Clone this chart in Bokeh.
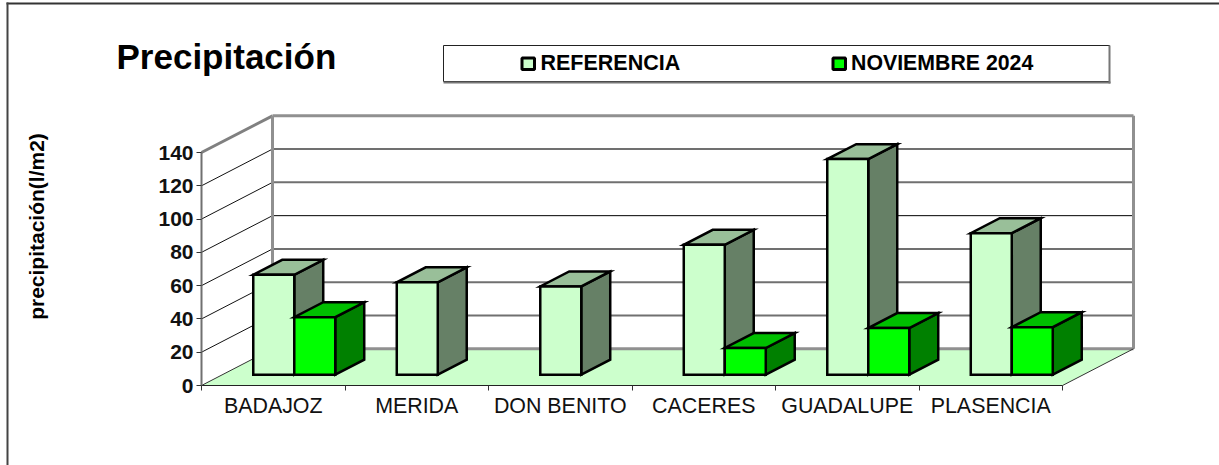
import math
from bokeh.plotting import figure
from bokeh.models import Range1d, FixedTicker, BoxAnnotation, Label
from bokeh.embed import file_html
from bokeh.resources import INLINE

categories = ["BADAJOZ", "MERIDA", "DON BENITO", "CACERES", "GUADALUPE", "PLASENCIA"]
referencia = [60, 55.5, 53, 78, 129.5, 85]
noviembre = [34.5, None, None, 16, 28, 28.5]
y_ticks = [0, 20, 40, 60, 80, 100, 120, 140]
title_text = "Precipitación"
y_title = "precipitación(l/m2)"
legend_names = ["REFERENCIA", "NOVIEMBRE 2024"]

FONT = "Liberation Sans"
W, H = 1219, 465
FRONT_L, FRONT_B, CAT_W, PX_PER_UNIT = 201, 385, 143.5, 233 / 140
DEPTH_X, DEPTH_Y = 71 / CAT_W, 36.7 / PX_PER_UNIT
N = len(categories)

p = figure(width=W, height=H, output_backend="svg", toolbar_location=None,
           x_range=Range1d(-FRONT_L / CAT_W, (W - FRONT_L) / CAT_W),
           y_range=Range1d(-(H - FRONT_B) / PX_PER_UNIT, FRONT_B / PX_PER_UNIT),
           min_border=0, background_fill_color="white")
p.outline_line_color = None
p.grid.visible = False

# axes
ya = p.yaxis[0]
ya.fixed_location = 0
ya.ticker = FixedTicker(ticks=y_ticks)
ya.bounds = (0, 140)
ya.axis_line_color = "#707070"
ya.axis_line_width = 2
ya.major_tick_line_color = "#333333"
ya.major_tick_out = 5
ya.major_tick_in = 0
ya.minor_tick_line_color = None
ya.major_label_text_font = FONT
ya.major_label_text_font_style = "bold"
ya.major_label_text_font_size = "21px"
ya.major_label_text_color = "#111111"
ya.major_label_standoff = 3

xa = p.xaxis[0]
xa.fixed_location = 0
xa.ticker = FixedTicker(ticks=[i + 0.5 for i in range(N)], minor_ticks=list(range(N + 1)))
xa.major_label_overrides = {i + 0.5: c for i, c in enumerate(categories)}
xa.bounds = (0, N)
xa.axis_line_color = "#222222"
xa.axis_line_width = 1
xa.major_tick_line_color = None
xa.minor_tick_line_color = "#333333"
xa.minor_tick_out = 5
xa.minor_tick_in = 0
xa.major_label_text_font = FONT
xa.major_label_text_font_size = "21.4px"
xa.major_label_text_color = "#111111"
xa.major_label_standoff = 2

# floor
p.patch([0, DEPTH_X, N + DEPTH_X, N], [0, DEPTH_Y, DEPTH_Y, 0],
        fill_color="#CCFFCC", line_color=None)

# wall grid lines
for v in y_ticks[1:]:
    p.line([0, DEPTH_X], [v, v + DEPTH_Y],
           line_color="#808080" if v == 140 else "#111111",
           line_width=3 if v == 140 else 1)
    if v < 140:
        p.line([DEPTH_X, N + DEPTH_X], [v + DEPTH_Y, v + DEPTH_Y],
               line_color="#000000" if v == 80 else "#707070",
               line_width=1 if v == 80 else 2)
p.line([DEPTH_X, DEPTH_X], [DEPTH_Y, 140 + DEPTH_Y], line_color="#909090", line_width=3)
p.line([N + DEPTH_X, N + DEPTH_X], [DEPTH_Y, 140 + DEPTH_Y], line_color="#909090", line_width=3)
p.line([DEPTH_X, N + DEPTH_X], [140 + DEPTH_Y, 140 + DEPTH_Y], line_color="#909090", line_width=3)
p.line([DEPTH_X, N + DEPTH_X], [DEPTH_Y, DEPTH_Y], line_color="#909090", line_width=3)
p.line([0, DEPTH_X], [0, DEPTH_Y], line_color="#333333", line_width=1)
p.line([N, N + DEPTH_X], [0, DEPTH_Y], line_color="#333333", line_width=1)


def draw_bar(x0, v, front, top, side):
    w = 1 / 3.5
    t0, t1 = 0.296, 0.704
    fx, fy = t0 * DEPTH_X, t0 * DEPTH_Y
    bx, by = t1 * DEPTH_X, t1 * DEPTH_Y
    x1 = x0 + w
    kw = dict(line_color="#000000", line_width=2.5, line_join="miter")
    p.patch([x1 + fx, x1 + bx, x1 + bx, x1 + fx],
            [fy, by, v + by, v + fy], fill_color=side, **kw)
    p.patch([x0 + fx, x1 + fx, x1 + bx, x0 + bx],
            [v + fy, v + fy, v + by, v + by], fill_color=top, **kw)
    p.patch([x0 + fx, x1 + fx, x1 + fx, x0 + fx],
            [fy, fy, v + fy, v + fy], fill_color=front, **kw)


for i in range(N):
    x0 = i + 0.75 / 3.5
    draw_bar(x0, referencia[i], "#CCFFCC", "#99BF99", "#668066")
    if noviembre[i] is not None:
        draw_bar(x0 + 1 / 3.5, noviembre[i], "#00FF00", "#00BF00", "#008000")


def cbox(l, r, t, b, fill, line=None, lw=0):
    p.add_layout(BoxAnnotation(left=l, right=r, top=H - t, bottom=H - b,
                               left_units="screen", right_units="screen",
                               top_units="screen", bottom_units="screen",
                               fill_color=fill, fill_alpha=1,
                               line_color=line, line_width=lw, line_alpha=1 if line else 0))


def clabel(text, x, y, size, **kw):
    p.add_layout(Label(x=x, y=H - y, x_units="screen", y_units="screen", text=text,
                       text_font=FONT, text_font_style="bold", text_font_size=size,
                       text_color="#000000", text_baseline="alphabetic", **kw))


# outer frame (top and left only)
cbox(6, W, 2, 4, "#333333")
cbox(6, 8, 2, H, "#444444")

# legend box
cbox(443, 1109, 45, 81, "#FFFFFF", "#222222", 1)
cbox(443, 1110, 81, 83, "#777777")
cbox(1108, 1110, 45, 83, "#777777")
cbox(521.5, 534, 57.5, 69, "#CCFFCC", "#000000", 3)
cbox(832.5, 845, 57.5, 69, "#00FF00", "#000000", 3)
clabel(legend_names[0], 540, 62.3, "21.5px")
clabel(legend_names[1], 850.5, 62.3, "21.3px")

# title and value-axis title
clabel(title_text, 116, 56, "35px")
clabel(y_title, 35.5, 226, "21px", angle=math.pi / 2, text_align="center")

open("out.html", "w").write(file_html(p, INLINE))
